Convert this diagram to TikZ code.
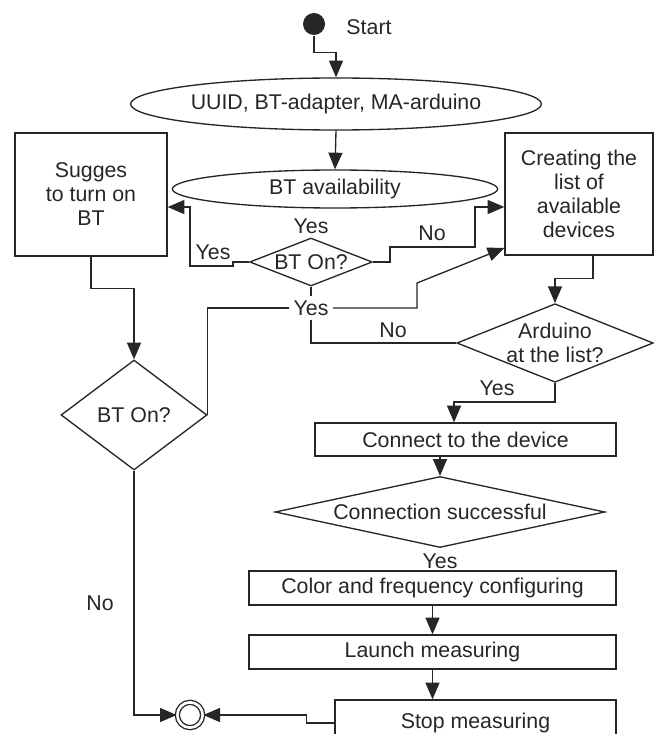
\documentclass[tikz,border=0pt]{standalone}
\usepackage{fontspec}
\setmainfont{Liberation Sans}
\usetikzlibrary{shapes.geometric, positioning, arrows.meta}

\begin{document}
\begin{tikzpicture}[
    x=0.75pt, y=-0.75pt,
    line width=1pt, color=black!85,
    every node/.style={font=\fontsize{16}{18}\selectfont},
    >={Triangle[length=12.5pt, width=10.5pt]},
    process/.style={draw, rectangle, align=center, inner sep=0pt},
    decision/.style={draw, diamond, align=center, inner sep=0pt},
    setup/.style={draw, ellipse, inner sep=0pt},
    startdot/.style={circle, fill=black!85, minimum size=16.5pt, inner sep=0pt},
    enddot/.style={draw, circle, double, double distance=2pt, minimum size=19pt, inner sep=0pt},
    tag/.style={inner sep=1pt}
]
    \useasboundingbox (0,0) rectangle (655,734);

    % Start and setup
    \node[startdot] (start) at (314,24) {};
    \node (starttxt) at (369,27) {Start};
    \node[setup, minimum width=251pt, minimum height=39pt] (init) at (336,104) {UUID, BT-adapter, MA-arduino};
    \node[setup, minimum width=244pt, minimum height=28.5pt] (avail) at (335,189) {BT availability};

    % Side boxes
    \node[process, minimum width=114pt, minimum height=92pt] (suggest) at (91,194.5) {Sugges\\to turn on\\BT};
    \node[process, minimum width=111pt, minimum height=91.5pt] (create) at (579,194) {Creating the\\list of\\available\\devices};

    % Decisions
    \node[decision, aspect=2.56, minimum width=92pt, minimum height=36pt] (on1) at (311,262) {BT On?};
    \node[decision, aspect=1.33, minimum width=109.5pt, minimum height=82.5pt] (on2) at (134,415) {BT On?};
    \node[decision, aspect=2.5, minimum width=145pt, minimum height=58pt] (arduino) at (555,343) {Arduino\\at the list?};

    % Main column
    \node[process, minimum width=225.75pt, minimum height=24.75pt] (connect) at (465.5,439.5) {Connect to the device};
    \node[decision, aspect=4.65, minimum width=247.5pt, minimum height=53.25pt] (success) at (440,512) {Connection successful};
    \node[process, minimum width=275.25pt, minimum height=25.5pt] (colour) at (432.5,588) {Color and frequency configuring};
    \node[process, minimum width=275.25pt, minimum height=25.5pt] (launch) at (432.5,652) {Launch measuring};
    \node[process, minimum width=210.75pt, minimum height=34.5pt] (stop) at (475.5,723) {Stop measuring};
    \node[enddot] (finish) at (190,715) {};

    % Labels
    \node[tag] (yestop) at (311,226) {Yes};
    \node[tag] (yesleft) at (213,252) {Yes};
    \node[tag] (nobt) at (432,233) {No};
    \node[tag, inner sep=3pt] (yesjoin) at (311,308) {Yes};
    \node[tag] (nolist) at (393,330) {No};
    \node[tag] (yeslist) at (497,388) {Yes};
    \node[tag] (yesconn) at (440,561) {Yes};
    \node[tag] (nooff) at (100,603) {No};

    % Start to setup
    \draw[->] (start.south) -- ++(0,17) -| (init.north);
    \draw[->] (init.south) -- (avail.north);

    % First BT check
    \draw[->] (on1.west) -- ++(-16,0) -- ++(0,4) -- ++(-43,0) |- ([yshift=-9.4pt]suggest.east);
    \draw[->] (on1.east) -- ++(17,0) -- ++(0,-15) -- ++(85,0) |- ([yshift=-9.75pt]create.west);
    \draw (on1.south) -- (yesjoin.north);
    \draw (yesjoin.west) -| (on2.east);
    \draw[->] (yesjoin.east) -- ++(84,0) -- ++(0,-25) -- ([yshift=-40.5pt]create.west);
    \draw (yesjoin.south) |- (arduino.west);

    % List of devices
    \draw[->] ([xshift=10.5pt]create.south) -- ++(0,23) -| (arduino.north);
    \draw[->] (arduino.south) -- ++(0,19) -| ([xshift=-8.6pt]connect.north);
    \draw[->] (connect.south -| success.north) -- (success.north);
    \draw[->] (colour.south) -- (launch.north);
    \draw[->] (launch.south) -- (launch.south |- stop.north);

    % Ends
    \draw[->] (stop.west) -- ++(-28,0) -- ++(0,-8) -- (finish.east);
    \draw[->] (suggest.south) -- ++(0,32) -| (on2.north);
    \draw[->] (on2.south) |- (finish.west);

\end{tikzpicture}
\end{document}
